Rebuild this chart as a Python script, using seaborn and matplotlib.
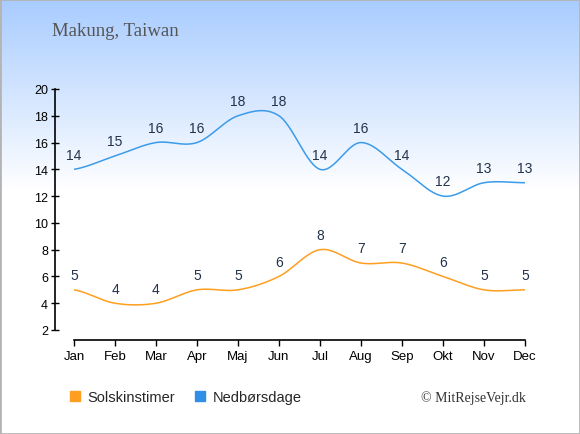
import matplotlib
matplotlib.use("Agg")
import matplotlib.pyplot as plt
import seaborn as sns
import numpy as np
import pandas as pd
from matplotlib.patches import Rectangle
from matplotlib.lines import Line2D

months = ["Jan", "Feb", "Mar", "Apr", "Maj", "Jun", "Jul", "Aug", "Sep", "Okt", "Nov", "Dec"]
sun_hours = [5, 4, 4, 5, 5, 6, 8, 7, 7, 6, 5, 5]
rain_days = [14, 15, 16, 16, 18, 18, 14, 16, 14, 12, 13, 13]
y_ticks = [2, 4, 6, 8, 10, 12, 14, 16, 18, 20]

SUN_COLOR = "#ff9e1f"
RAIN_COLOR = "#3a9bea"
TEXT_COLOR = "#22324a"


def smooth(y, steps=30, tension=0.5):
    # cardinal spline through the points, only for drawing the curve
    y = np.asarray(y, dtype=float)
    x = np.arange(len(y), dtype=float)
    yp = np.concatenate(([y[0]], y, [y[-1]]))
    xs, ys = [], []
    for i in range(len(y) - 1):
        p0, p1, p2, p3 = yp[i], yp[i + 1], yp[i + 2], yp[i + 3]
        m1 = tension * (p2 - p0)
        m2 = tension * (p3 - p1)
        t = np.linspace(0, 1, steps, endpoint=False)
        h00 = 2 * t**3 - 3 * t**2 + 1
        h10 = t**3 - 2 * t**2 + t
        h01 = -2 * t**3 + 3 * t**2
        h11 = t**3 - t**2
        xs.append(x[i] + t)
        ys.append(h00 * p1 + h10 * m1 + h01 * p2 + h11 * m2)
    xs.append([x[-1]])
    ys.append([y[-1]])
    return np.concatenate(xs), np.concatenate(ys)


sns.set_style("white")
plt.rcParams["font.family"] = ["Liberation Sans", "DejaVu Sans"]

W, H = 580, 435
fig = plt.figure(figsize=(W / 100, H / 100), dpi=100)

# background gradient
bg = fig.add_axes([0, 0, 1, 1], zorder=-10)
grad = np.linspace(0, 1, 256).reshape(-1, 1)
top = np.array([0.66, 0.80, 1.0])
white = np.array([1.0, 1.0, 1.0])
mix = np.clip(grad / 0.44, 0, 1)
img = top[None, None, :] * (1 - mix[..., None]) + white[None, None, :] * mix[..., None]
bg.imshow(img, aspect="auto", extent=[0, 1, 0, 1])
bg.set_axis_off()
fig.patches.append(Rectangle((0, 0), 1, 1, transform=fig.transFigure, fill=False,
                             edgecolor="#b4b4b4", linewidth=2))

x0, x1 = 74, 525
y0, y1 = 90, 331
ax = fig.add_axes([x0 / W, 1 - y1 / H, (x1 - x0) / W, (y1 - y0) / H])
ax.patch.set_alpha(0)

df = pd.DataFrame({"month": np.arange(12), "sun": sun_hours, "rain": rain_days})

for col, color in [("sun", SUN_COLOR), ("rain", RAIN_COLOR)]:
    sx, sy = smooth(df[col])
    sns.lineplot(x=sx, y=sy, ax=ax, color=color, linewidth=1.1, sort=False)
    for xi, v in zip(df["month"], df[col]):
        ax.annotate(str(v), (xi, v), xytext=(0, 5.5), textcoords="offset points",
                    ha="center", va="bottom", fontsize=10, color=TEXT_COLOR)

ax.set_xlim(0, 11)
ax.set_ylim(2, 20)
ax.set_xticks(range(12))
ax.set_xticklabels(months)
ax.set_yticks(y_ticks)
ax.set_xlabel("")
ax.set_ylabel("")
for s in ["top", "right"]:
    ax.spines[s].set_visible(False)
ax.spines["left"].set_position(("outward", 19 * 72 / 100))
ax.spines["bottom"].set_position(("outward", 10 * 72 / 100))
for s in ["left", "bottom"]:
    ax.spines[s].set_color("black")
    ax.spines[s].set_linewidth(1.2)
ax.tick_params(axis="both", which="major", direction="out", length=4, width=1,
               color="black", labelsize=9.5, labelcolor="black", pad=2,
               bottom=True, left=True)
ax.tick_params(axis="x", pad=3)
ax.tick_params(axis="y", direction="inout", length=6, labelsize=9)

fig.text(52 / W, 1 - 32 / H, "Makung, Taiwan", fontsize=13.5, color="#555555",
         family=["Liberation Serif", "DejaVu Serif"], va="center")

handles = [Line2D([], [], marker="s", linestyle="", markersize=7.5, color=SUN_COLOR),
           Line2D([], [], marker="s", linestyle="", markersize=7.5, color="#2f8fe6")]
fig.legend(handles, ["Solskinstimer", "Nedbørsdage"], loc="center left",
           bbox_to_anchor=(68 / W, 1 - 398 / H), ncol=2, frameon=False,
           fontsize=10.5, handlelength=1.0, handletextpad=0.35, columnspacing=1.2,
           borderaxespad=0, borderpad=0)

fig.text(526 / W, 1 - 398 / H, "© MitRejseVejr.dk", fontsize=10, color="#333333",
         family=["Liberation Serif", "DejaVu Serif"], ha="right", va="center")

fig.savefig("out.png", dpi=100)
